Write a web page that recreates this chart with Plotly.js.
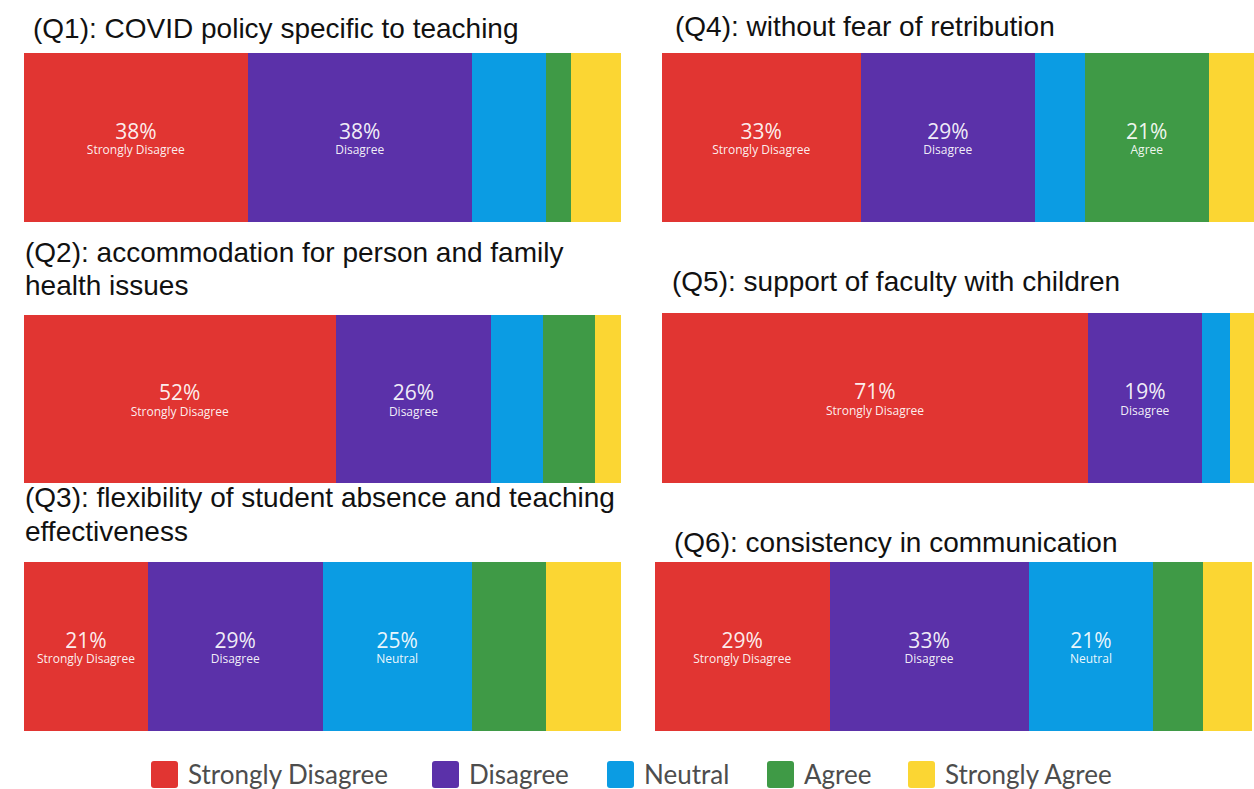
<!DOCTYPE html>
<html>
<head>
<meta charset="utf-8">
<script src="https://cdn.plot.ly/plotly-3.0.1.min.js"></script>
<style>
html,body{margin:0;padding:0;background:#fff;}
#chart{width:1254px;height:789px;}
</style>
</head>
<body>
<div id="chart"></div>
<script>
// ---------- data ----------
const questionTitles = [
  "(Q1): COVID policy specific to teaching",
  "(Q2): accommodation for person and family<br>health issues",
  "(Q3): flexibility of student absence and teaching<br>effectiveness",
  "(Q4): without fear of retribution",
  "(Q5): support of faculty with children",
  "(Q6): consistency in communication"
];
const categories = ["Strongly Disagree", "Disagree", "Neutral", "Agree", "Strongly Agree"];
const stronglyDisagree = [37.5, 52.2, 20.8, 33.3, 71.4, 29.2];
const disagree         = [37.5, 26.1, 29.2, 29.2, 19.0, 33.3];
const neutral          = [12.5,  8.7, 25.0,  8.3,  4.8, 20.8];
const agree            = [ 4.2,  8.7, 12.5, 20.8,  0.0,  8.3];
const stronglyAgree    = [ 8.3,  4.3, 12.5,  8.3,  4.8,  8.3];
const seriesValues = [stronglyDisagree, disagree, neutral, agree, stronglyAgree];

// ---------- style / layout ----------
const colors = ["#E13532", "#5B31A9", "#0B9CE3", "#3F9A46", "#FBD633"];
const W = 1254, H = 789;
const px = v => v / W;
const py = v => 1 - v / H;
// panel geometry in pixels
const panels = [
  {x0: 24,  x1: 621,  y0: 53,  y1: 222, xmax: 100},
  {x0: 24,  x1: 621,  y0: 315, y1: 483, xmax: 100},
  {x0: 24,  x1: 621,  y0: 562, y1: 731, xmax: 100},
  {x0: 662, x1: 1254, y0: 53,  y1: 222, xmax: 100 * 592 / 597},
  {x0: 662, x1: 1254, y0: 313, y1: 483, xmax: 100 * 592 / 597},
  {x0: 655, x1: 1253, y0: 562, y1: 731, xmax: 100}
];
// first-line centre of each title, pixels
const titlePos = [
  {x: 31, y: 28}, {x: 23, y: 252}, {x: 23, y: 498},
  {x: 673, y: 27}, {x: 670, y: 281}, {x: 672, y: 542}
];
const titleLineGap = 33;
const labelThreshold = 15;

const traces = [];
const layout = {
  width: W, height: H,
  margin: {l: 0, r: 0, t: 0, b: 0},
  paper_bgcolor: "#ffffff", plot_bgcolor: "#ffffff",
  barmode: "stack", bargap: 0,
  showlegend: false,
  font: {family: "Open Sans, sans-serif"},
  annotations: [], shapes: []
};

panels.forEach((p, i) => {
  const sfx = i === 0 ? "" : String(i + 1);
  const xa = "x" + sfx, ya = "y" + sfx;
  layout["xaxis" + sfx] = {
    domain: [px(p.x0), px(p.x1)], range: [0, p.xmax], anchor: ya,
    showgrid: false, zeroline: false, showticklabels: false, showline: false, fixedrange: true
  };
  layout["yaxis" + sfx] = {
    domain: [py(p.y1), py(p.y0)], range: [-0.5, 0.5], anchor: xa,
    showgrid: false, zeroline: false, showticklabels: false, showline: false, fixedrange: true
  };
  categories.forEach((cat, c) => {
    const v = seriesValues[c][i];
    const txt = v >= labelThreshold
      ? '<span style="font-size:21px">' + Math.round(v) + '%</span><br>' + cat
      : '';
    traces.push({
      type: "bar", orientation: "h",
      x: [v], y: [0],
      xaxis: xa, yaxis: ya,
      name: cat,
      marker: {color: colors[c], line: {width: 0}},
      text: [txt], texttemplate: "%{text}",
      textposition: "inside", insidetextanchor: "middle", textangle: 0,
      textfont: {family: "Open Sans, sans-serif", size: 12, color: "rgba(255,255,255,0.93)"},
      hoverinfo: "skip", showlegend: false, cliponaxis: true
    });
  });
  questionTitles[i].split("<br>").forEach((line, k) => {
    layout.annotations.push({
      xref: "paper", yref: "paper",
      x: px(titlePos[i].x), y: py(titlePos[i].y + k * titleLineGap),
      xanchor: "left", yanchor: "middle", align: "left",
      showarrow: false, text: line,
      font: {family: "Liberation Sans, Arial, sans-serif", size: 28, color: "#111111"}
    });
  });
});

// custom legend (large rounded squares)
const legendSquareX = [151, 432, 607, 767, 908];
categories.forEach((cat, c) => {
  const x0 = legendSquareX[c];
  layout.shapes.push({
    type: "path", xref: "paper", yref: "paper",
    path: roundedRect(px(x0), py(788), px(x0 + 27), py(761)),
    fillcolor: colors[c], line: {width: 0}
  });
  layout.annotations.push({
    xref: "paper", yref: "paper",
    x: px(x0 + 35), y: py(774),
    xanchor: "left", yanchor: "middle", showarrow: false,
    text: cat,
    font: {family: "Lato, Open Sans, sans-serif", size: 26, color: "#4d4d4d"}
  });
});

function roundedRect(x0, y0, x1, y1) {
  const rx = 3 / W, ry = 3 / H;
  return `M${x0 + rx},${y0} L${x1 - rx},${y0} Q${x1},${y0} ${x1},${y0 + ry} ` +
         `L${x1},${y1 - ry} Q${x1},${y1} ${x1 - rx},${y1} L${x0 + rx},${y1} ` +
         `Q${x0},${y1} ${x0},${y1 - ry} L${x0},${y0 + ry} Q${x0},${y0} ${x0 + rx},${y0} Z`;
}

Plotly.newPlot("chart", traces, layout, {displayModeBar: false, staticPlot: true});
</script>
</body>
</html>
